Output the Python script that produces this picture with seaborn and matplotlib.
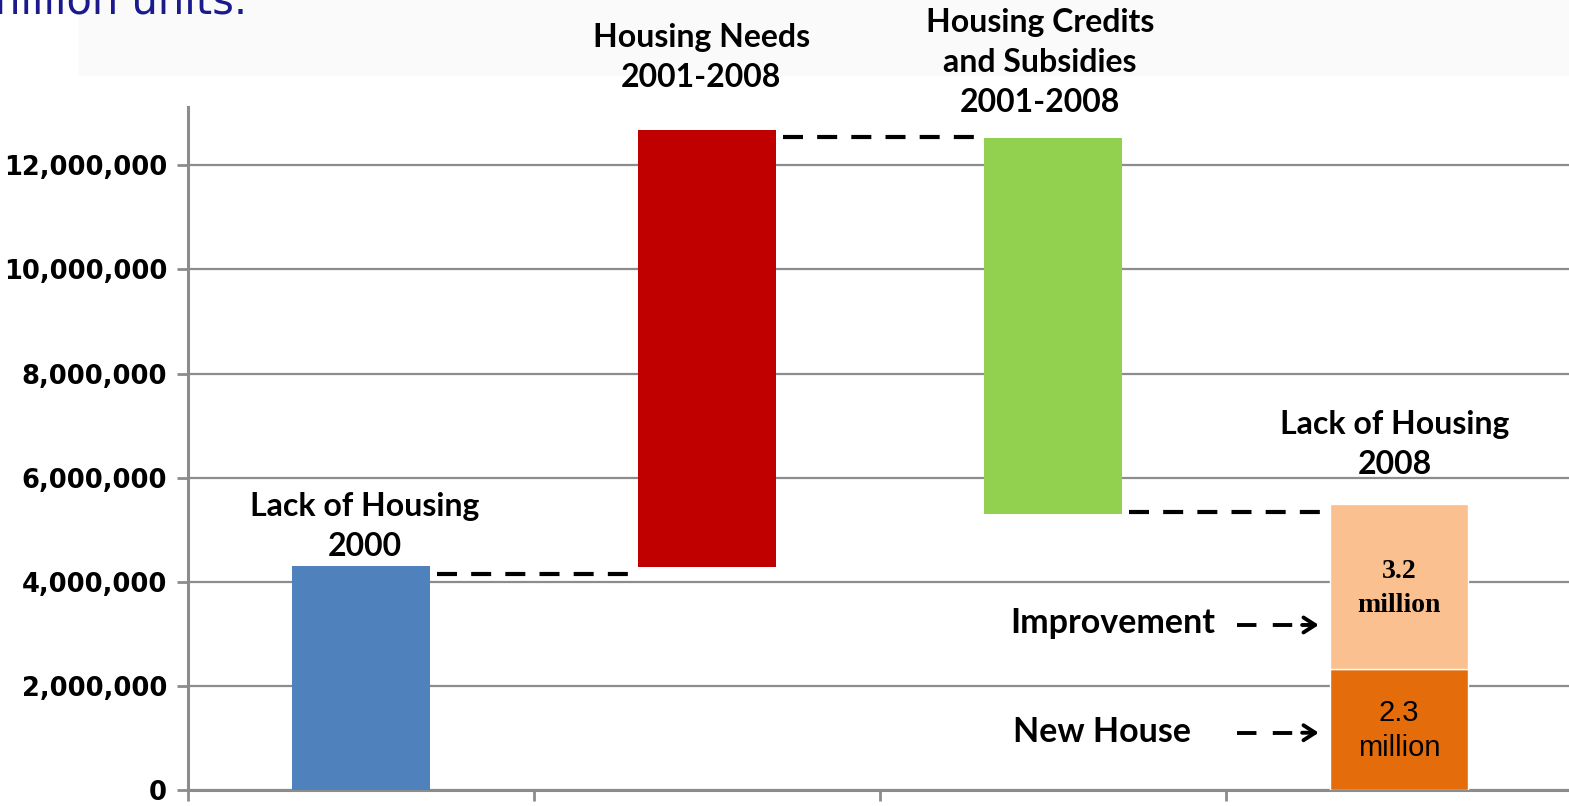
import matplotlib
matplotlib.use("Agg")
import matplotlib.pyplot as plt
import seaborn as sns
import numpy as np
from matplotlib.patches import Rectangle
from matplotlib.ticker import FuncFormatter, FixedLocator

# ---- data ----
categories = ["Lack of Housing 2000", "Housing Needs 2001-2008",
              "Housing Credits and Subsidies 2001-2008", "Lack of Housing 2008"]
bar_bottoms = [0, 4_280_000, 5_300_000]
bar_tops = [4_300_000, 12_680_000, 12_530_000]
new_house = 2_320_000
improvement = 3_170_000
connector_levels = [4_150_000, 12_550_000, 5_340_000]
bar_labels = ["Lack of Housing\n2000", "Housing Needs\n2001-2008",
              "Housing Credits\nand Subsidies\n2001-2008", "Lack of Housing\n2008"]
label_y = [5_060_000, 14_070_000, 13_970_000, 6_640_000]
label_x = [0.012, 0.983, 1.962, 2.988]
y_ticks = [0, 2_000_000, 4_000_000, 6_000_000, 8_000_000, 10_000_000, 12_000_000]
bar_colors = ["#4F81BD", "#C00000", "#92D050"]
new_color = "#E46C0A"
impr_color = "#FAC090"

sns.set_theme(style="white")
plt.rcParams["font.family"] = ["DejaVu Sans"]
plt.rcParams["text.color"] = "black"

W, H = 1569, 806
fig = plt.figure(figsize=(W / 100, H / 100), dpi=100)

# top band + cut title
band = Rectangle((79 / W, 1 - 75 / H), 1 - 79 / W, 75 / H,
                 transform=fig.transFigure, color="#FAFAFA", zorder=-5)
fig.patches.append(band)
fig.text(247 / W, 1 - 13 / H, "million units.", ha="right", va="baseline",
         fontsize=30, color="#1A1A8C", family="DejaVu Sans", zorder=-4)

ax = fig.add_axes([188 / W, 1 - 790 / H, 1384 / W, (790 - 107) / H])
ax.set_facecolor("none")

width = 0.4
for i in range(3):
    sns.barplot(x=[categories[i]], y=[bar_tops[i] - bar_bottoms[i]], bottom=bar_bottoms[i],
                order=categories, color=bar_colors[i], width=width, saturation=1,
                ax=ax, zorder=3, linewidth=0)
sns.barplot(x=[categories[3]], y=[new_house], order=categories, color=new_color,
            width=width, saturation=1, ax=ax, zorder=3, edgecolor="white", linewidth=1)
sns.barplot(x=[categories[3]], y=[improvement], bottom=new_house, order=categories,
            color=impr_color, width=width, saturation=1, ax=ax, zorder=3,
            edgecolor="white", linewidth=1)

# connectors
for i, lvl in enumerate(connector_levels):
    ax.plot([i + 0.22, i + 0.8], [lvl, lvl], color="black", lw=3,
            linestyle=(0, (4.8, 3.4)), zorder=4, solid_capstyle="butt")

ax.set_xlim(-0.5, 3.5)
ax.set_ylim(0, 13_120_000)
ax.set_xlabel("")
ax.set_ylabel("")

grid_c = "#8C8C8C"
ax.yaxis.set_major_locator(FixedLocator(y_ticks))
ax.yaxis.set_major_formatter(FuncFormatter(lambda v, p: f"{int(v):,}"))
ax.grid(axis="y", color=grid_c, lw=1.6, zorder=0)
ax.set_axisbelow(True)
ax.set_xticks([])
ax.set_xticks([-0.5, 0.5, 1.5, 2.5, 3.5], minor=True)
ax.tick_params(axis="x", which="minor", length=8, width=2, color=grid_c, direction="out", bottom=True)
ax.tick_params(axis="y", length=8, width=2, color=grid_c, direction="out", left=True, pad=7)
for lab in ax.get_yticklabels():
    lab.set_fontsize(18.5)
    lab.set_fontweight("bold")
    lab.set_color("black")
for s in ["top", "right"]:
    ax.spines[s].set_visible(False)
ax.spines["left"].set_color(grid_c)
ax.spines["left"].set_linewidth(2.2)
ax.spines["bottom"].set_color(grid_c)
ax.spines["bottom"].set_linewidth(2.2)

# category labels
for x, y, t in zip(label_x, label_y, bar_labels):
    ax.text(x, y, t, ha="center", va="center", fontsize=23, fontweight="bold",
            family="Lato", linespacing=1.45, clip_on=False, zorder=5, color="black")

# inner values
ax.text(3.0, 3_870_000, "3.2\nmillion", ha="center", va="center", fontsize=20,
        fontweight="bold", family="Liberation Serif", linespacing=1.45, zorder=5,
        color="black")
ax.text(3.0, 1_140_000, "2.3\nmillion", ha="center", va="center", fontsize=21,
        family="Liberation Sans", linespacing=1.3, zorder=5, color="black")

# side labels with arrows
ax.text(1.876, 3_210_000, "Improvement", ha="left", va="center", fontsize=24.5,
        fontweight="bold", family="Lato", zorder=5, color="black")
ax.text(1.885, 1_110_000, "New House", ha="left", va="center", fontsize=24.5,
        fontweight="bold", family="Lato", zorder=5, color="black")
for yv in [3_170_000, 1_100_000]:
    ax.plot([2.532, 2.72], [yv, yv], color="black", lw=2.8,
            linestyle=(0, (5, 4.2)), zorder=5, solid_capstyle="butt")
    ax.annotate("", xy=(2.768, yv), xytext=(2.72, yv),
                arrowprops=dict(arrowstyle="->,head_length=0.7,head_width=0.45",
                                color="black", lw=2.8, shrinkA=0, shrinkB=0), zorder=5)

fig.savefig("out.png", dpi=100)
